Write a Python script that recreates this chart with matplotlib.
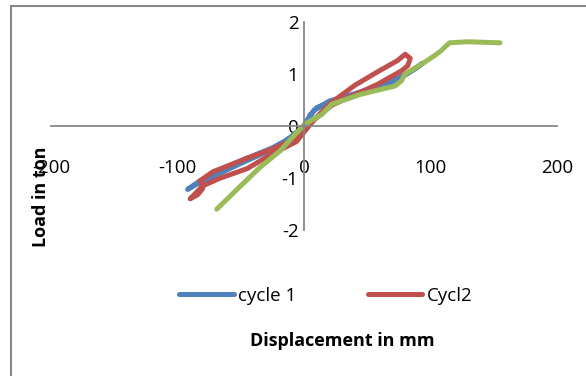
import numpy as np
import matplotlib
matplotlib.use("Agg")
import matplotlib.pyplot as plt
from matplotlib.patches import Rectangle

plt.rcParams['font.family'] = ['Open Sans', 'DejaVu Sans']
plt.rcParams['axes.unicode_minus'] = False

# cycle 1 (blue)
blue_x = [0, 5, 10, 20, 35, 50, 65, 80, 94, 88, 75, 60, 40, 20, 8, 0,
          -10, -25, -40, -55, -70, -82, -92, -85, -70, -50, -30, -15, 0]
blue_y = [0, 0.22, 0.35, 0.46, 0.57, 0.66, 0.78, 0.98, 1.21, 1.1, 0.92, 0.78, 0.62, 0.48, 0.3, 0.0,
          -0.22, -0.42, -0.57, -0.72, -0.9, -1.05, -1.22, -1.12, -0.95, -0.72, -0.5, -0.3, 0]

# Cycl2 (red)
red_x = [0, 8, 20, 40, 58, 74, 80, 84, 82, 77, 58, 40, 22, 8, 0,
         -6, -27, -45, -66, -80, -90, -84, -80, -82, -72, -45, -27, -10, 0]
red_y = [-0.05, 0.12, 0.42, 0.78, 1.04, 1.26, 1.38, 1.3, 1.16, 1.06, 0.8, 0.6, 0.4, 0.12, -0.12,
         -0.3, -0.56, -0.82, -1.0, -1.15, -1.4, -1.32, -1.2, -1.05, -0.88, -0.62, -0.46, -0.28, -0.05]

# third series (green)
green_x = [-69, -50, -35, -19, -7, 1, 14, 22, 45, 72, 77, 80, 93, 103, 108, 115, 129, 155]
green_y = [-1.6, -1.15, -0.8, -0.48, -0.16, 0.04, 0.22, 0.42, 0.61, 0.77, 0.87, 1.0, 1.19, 1.35, 1.44, 1.6, 1.62, 1.6]

xticks = [-200, -100, 0, 100, 200]
yticks = [-2, -1, 0, 1, 2]

W, H = 586, 376
fig = plt.figure(figsize=(W / 100, H / 100), dpi=100)
ax = fig.add_axes([51 / W, 146 / H, 506 / W, 208 / H])

lw = 3.6
style = dict(linewidth=lw, solid_capstyle='round', solid_joinstyle='round')
ax.plot(blue_x, blue_y, color='#4F81BD', label='cycle 1', **style)
ax.plot(red_x, red_y, color='#C0504D', label='Cycl2', **style)
ax.plot(green_x, green_y, color='#9BBB59', **style)

ax.set_xlim(-200, 200)
ax.set_ylim(-2, 2)
ax.set_xticks(xticks)
ax.set_yticks(yticks)

for s in ['top', 'right']:
    ax.spines[s].set_visible(False)
ax.spines['left'].set_position(('data', 0))
ax.spines['bottom'].set_position(('data', 0))
for s in ['left', 'bottom']:
    ax.spines[s].set_color('#868686')
    ax.spines[s].set_linewidth(1.3)

ax.tick_params(axis='x', length=0, pad=24, labelsize=13.5)
ax.tick_params(axis='y', length=0, pad=4, labelsize=13.5)
ax.patch.set_alpha(0)

fig.text(41 / W, 1 - 197 / H, 'Load in ton', rotation=90, ha='center', va='center',
         fontsize=13, fontweight='bold')
fig.text(342 / W, 1 - 341 / H, 'Displacement in mm', ha='center', va='center',
         fontsize=13, fontweight='bold')

fig.legend(loc='center', bbox_to_anchor=(326 / W, 1 - 296 / H), ncol=2, frameon=False,
           fontsize=13.5, handlelength=2.9, handletextpad=0.25, columnspacing=3.8)

fig.patches.append(Rectangle((11 / W, -0.1), 1.2, 1.1 - 6 / H, transform=fig.transFigure,
                             fill=False, edgecolor='#868686', linewidth=1.5))

fig.savefig('out.png', dpi=100)
